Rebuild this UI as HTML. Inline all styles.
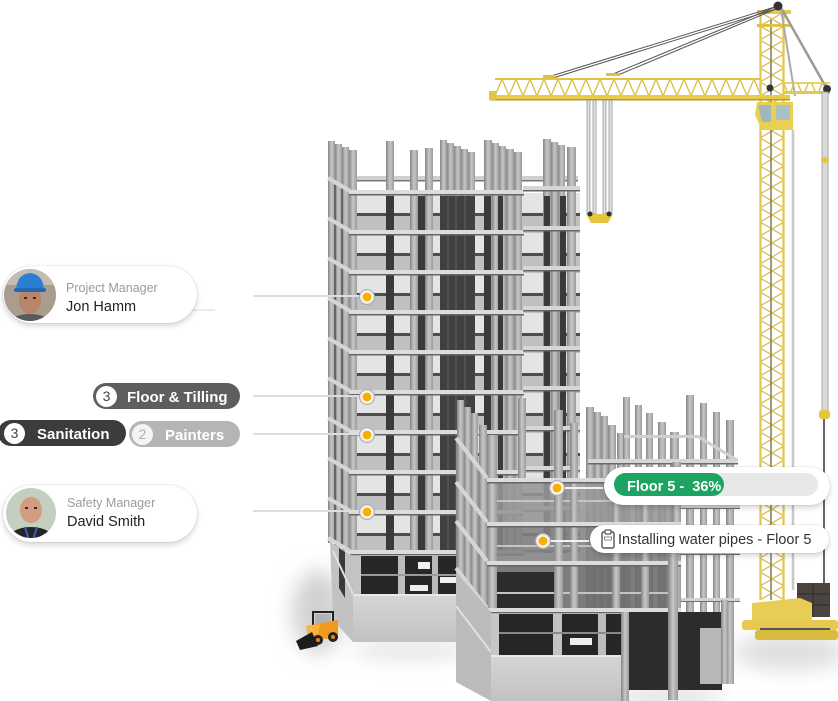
<!DOCTYPE html>
<html><head><meta charset="utf-8">
<style>
html,body{margin:0;padding:0;background:#fff;}
body{width:838px;height:701px;position:relative;overflow:hidden;font-family:"Liberation Sans",Arial,sans-serif;}
.a{position:absolute;left:0;top:0;}
.pill{position:absolute;background:#fff;border-radius:29px;box-shadow:0 3px 6px rgba(0,0,0,.16),0 0 1px rgba(0,0,0,.3);}
.t{position:absolute;white-space:pre;line-height:1;}
.cnt{position:absolute;height:26px;border-radius:13px;}
.num{position:absolute;width:21px;height:21px;border-radius:50%;background:#fff;font-size:14px;line-height:21px;text-align:center;color:#444;}
.lbl{position:absolute;white-space:pre;line-height:1;color:#fff;font-weight:bold;font-size:15px;}
</style></head><body>
<svg class="a" width="838" height="701" viewBox="0 0 838 701">
<defs>
 <linearGradient id="cg" x1="0" x2="1" y1="0" y2="0">
  <stop offset="0" stop-color="#858585"/><stop offset=".5" stop-color="#c8c8c8"/><stop offset="1" stop-color="#9a9a9a"/>
 </linearGradient>
 <linearGradient id="baseG" x1="0" x2="0" y1="0" y2="1">
  <stop offset="0" stop-color="#d6d6d6"/><stop offset="1" stop-color="#c2c2c2"/>
 </linearGradient>
 <pattern id="floors" patternUnits="userSpaceOnUse" x="0" y="193" width="838" height="40">
  <rect width="838" height="40" fill="#e4e4e4"/>
  <rect y="20" width="838" height="3" fill="#4d4d4d"/>
  <rect y="23" width="838" height="17" fill="#c0c0c0"/>
 </pattern>
 <pattern id="bands" patternUnits="userSpaceOnUse" x="0" y="190" width="838" height="40">
  <rect y="0" width="838" height="4" fill="#dcdcdc"/>
  <rect y="4" width="838" height="1.5" fill="#666"/>
 </pattern>
 <pattern id="bandsR" patternUnits="userSpaceOnUse" x="0" y="186" width="838" height="40">
  <rect y="0" width="838" height="4" fill="#d6d6d6"/>
  <rect y="4" width="838" height="1.5" fill="#666"/>
 </pattern>
 <pattern id="mast" patternUnits="userSpaceOnUse" x="760" y="12" width="24" height="14">
  <path d="M0 0 L24 14 M24 0 L0 14" stroke="#d6bb48" stroke-width="1.2" fill="none"/>
 </pattern>
 <pattern id="jib" patternUnits="userSpaceOnUse" x="495" y="79" width="14" height="17">
  <path d="M0 17 L7 0 L14 17" stroke="#dcbd40" stroke-width="1.3" fill="none"/>
 </pattern>
 <filter id="blur" x="-50%" y="-50%" width="200%" height="200%"><feGaussianBlur stdDeviation="10"/></filter>
 <clipPath id="av1"><circle cx="30" cy="295" r="26"/></clipPath>
 <clipPath id="av2"><circle cx="31" cy="513" r="25"/></clipPath>
</defs>

<!-- ground shadows -->
<g filter="url(#blur)">
 <ellipse cx="318" cy="612" rx="26" ry="42" fill="#d2d2d2"/>
 <ellipse cx="410" cy="650" rx="60" ry="7" fill="#dadada"/>
 <ellipse cx="790" cy="652" rx="58" ry="18" fill="#dedede"/>
 <ellipse cx="670" cy="697" rx="55" ry="8" fill="#d8d8d8"/>
</g>

<!-- ===== LEFT TOWER ===== -->
<rect x="350" y="193" width="230" height="360" fill="url(#floors)"/>
<rect x="356" y="176" width="222" height="4" fill="#cfcfcf"/>
<rect x="356" y="180" width="222" height="1.5" fill="#777"/>
<polygon points="328,180 350,193 350,553 328,540" fill="#9a9a9a"/>
<g fill="url(#cg)">
 <rect x="328" y="141" width="7" height="402"/>
 <rect x="335" y="144" width="7" height="404"/>
 <rect x="342" y="147" width="7" height="404"/>
 <rect x="349" y="150" width="8" height="403"/>
 <rect x="386" y="141" width="8" height="412"/>
 <rect x="410" y="150" width="8" height="403"/>
 <rect x="425" y="148" width="8" height="405"/>
 <rect x="440" y="140" width="7" height="413"/>
 <rect x="447" y="143" width="7" height="410"/>
 <rect x="454" y="146" width="7" height="407"/>
 <rect x="461" y="149" width="7" height="404"/>
 <rect x="468" y="152" width="7" height="401"/>
 <rect x="484" y="140" width="8" height="413"/>
 <rect x="492" y="143" width="7" height="410"/>
 <rect x="499" y="146" width="7" height="407"/>
 <rect x="506" y="149" width="8" height="404"/>
 <rect x="514" y="152" width="8" height="401"/>
 <rect x="543" y="139" width="8" height="414"/>
 <rect x="551" y="142" width="7" height="411"/>
 <rect x="558" y="145" width="7" height="408"/>
 <rect x="567" y="147" width="9" height="406"/>
</g>
<g fill="#3a3a3a">
 <rect x="386" y="196" width="8" height="357"/>
 <rect x="418" y="196" width="7" height="357"/>
 <rect x="440" y="196" width="35" height="357" fill="#404040"/>
 <rect x="484" y="196" width="7" height="357"/>
 <rect x="498" y="196" width="5" height="357"/>
 <rect x="544" y="196" width="6" height="357"/>
 <rect x="560" y="196" width="6" height="357"/>
</g>
<g stroke="#575757" stroke-width="1.5">
 <line x1="448" y1="196" x2="448" y2="553"/><line x1="456" y1="196" x2="456" y2="553"/><line x1="465" y1="196" x2="465" y2="553"/>
</g>
<g stroke="#4a4a4a" stroke-width="1.3">
 <line x1="335" y1="185" x2="335" y2="545"/><line x1="342" y1="188" x2="342" y2="548"/>
</g>
<rect x="349" y="189" width="175" height="368" fill="url(#bands)"/>
<rect x="523" y="185" width="57" height="368" fill="url(#bandsR)"/>
<g stroke="#d6d6d6" stroke-width="4">
 <line x1="328" y1="178" x2="350" y2="191"/><line x1="328" y1="218" x2="350" y2="231"/>
 <line x1="328" y1="258" x2="350" y2="271"/><line x1="328" y1="298" x2="350" y2="311"/>
 <line x1="328" y1="338" x2="350" y2="351"/><line x1="328" y1="378" x2="350" y2="391"/>
 <line x1="328" y1="418" x2="350" y2="431"/><line x1="328" y1="458" x2="350" y2="471"/>
 <line x1="328" y1="498" x2="350" y2="511"/><line x1="328" y1="538" x2="350" y2="551"/>
</g>

<!-- left tower ground floor + base -->
<polygon points="330,542 353,556 353,642 333,620" fill="#c2c2c2"/>
<polygon points="339,548 345,552 345,598 339,588" fill="#3a3a3a"/>
<line x1="333" y1="551" x2="353" y2="594" stroke="#e2e2e2" stroke-width="2"/>
<rect x="353" y="556" width="104" height="38" fill="#272727"/>
<rect x="353" y="556" width="8" height="38" fill="#c4c4c4"/>
<rect x="398" y="556" width="7" height="38" fill="#bdbdbd"/>
<rect x="432" y="556" width="6" height="38" fill="#b8b8b8"/>
<rect x="361" y="574" width="96" height="2" fill="#9a9a9a"/>
<rect x="418" y="562" width="12" height="7" fill="#f0f0f0"/>
<rect x="440" y="577" width="16" height="6" fill="#f0f0f0"/>
<rect x="410" y="585" width="18" height="6" fill="#eeeeee"/>
<rect x="353" y="594" width="104" height="48" fill="url(#baseG)"/>
<rect x="353" y="594" width="104" height="2" fill="#e8e8e8"/>

<!-- ===== RIGHT BUILDING ===== -->
<g fill="url(#cg)">
 <rect x="586" y="407" width="8" height="205"/>
 <rect x="594" y="412" width="7" height="200"/>
 <rect x="601" y="416" width="7" height="196"/>
 <rect x="608" y="425" width="8" height="187"/>
 <rect x="617" y="433" width="8" height="179"/>
 <rect x="623" y="397" width="7" height="215"/>
 <rect x="635" y="405" width="7" height="207"/>
 <rect x="646" y="413" width="7" height="199"/>
 <rect x="658" y="422" width="8" height="190"/>
 <rect x="670" y="432" width="9" height="180"/>
 <rect x="686" y="395" width="8" height="217"/>
 <rect x="700" y="403" width="7" height="209"/>
 <rect x="713" y="412" width="7" height="228"/>
 <rect x="726" y="420" width="8" height="264"/>
</g>
<rect x="588" y="459" width="150" height="4" fill="#d6d6d6"/>
<rect x="588" y="463" width="150" height="1.5" fill="#6a6a6a"/>
<rect x="624" y="435" width="74" height="3" fill="#cfcfcf"/>
<line x1="697" y1="436" x2="737" y2="460" stroke="#d0d0d0" stroke-width="3"/>
<g fill="#d2d2d2">
 <rect x="680" y="505" width="60" height="3"/><rect x="680" y="551" width="60" height="3"/><rect x="680" y="598" width="60" height="3"/>
</g>
<g fill="#707070">
 <rect x="680" y="508" width="60" height="1"/><rect x="680" y="554" width="60" height="1"/><rect x="680" y="601" width="60" height="1"/>
</g>
<g opacity=".88">
 <rect x="487" y="480" width="193" height="44" fill="#969696"/>
 <rect x="487" y="524" width="193" height="39" fill="#828282"/>
 <rect x="487" y="563" width="193" height="49" fill="#6a6a6a"/>
</g>
<rect x="496" y="572" width="58" height="36" fill="#2c2c2c"/>
<g fill="#c4c4c4">
 <rect x="487" y="500" width="193" height="2"/><rect x="487" y="545" width="193" height="2"/><rect x="487" y="592" width="193" height="2"/>
</g>
<polygon points="456,440 487,480 487,612 456,572" fill="#8a8a8a"/>
<g fill="url(#cg)">
 <rect x="457" y="400" width="7" height="210"/>
 <rect x="464" y="407" width="7" height="203"/>
 <rect x="471" y="413" width="7" height="197"/>
 <rect x="479" y="425" width="8" height="185"/>
 <rect x="487" y="435" width="10" height="177"/>
 <rect x="518" y="398" width="8" height="82"/>
 <rect x="554" y="410" width="9" height="202"/>
 <rect x="570" y="423" width="8" height="189"/>
 <rect x="612" y="470" width="8" height="142"/>
 <rect x="641" y="470" width="8" height="142"/>
 <rect x="672" y="462" width="9" height="150"/>
</g>
<g>
 <rect x="487" y="478" width="194" height="4" fill="#dcdcdc"/><rect x="487" y="482" width="194" height="1.5" fill="#666"/>
 <rect x="487" y="522" width="194" height="4" fill="#dcdcdc"/><rect x="487" y="526" width="194" height="1.5" fill="#666"/>
 <rect x="487" y="561" width="194" height="4" fill="#dcdcdc"/><rect x="487" y="565" width="194" height="1.5" fill="#666"/>
 <rect x="487" y="608" width="194" height="4" fill="#dcdcdc"/><rect x="487" y="612" width="194" height="1.5" fill="#666"/>
</g>
<g stroke="#d6d6d6" stroke-width="4">
 <line x1="456" y1="438" x2="487" y2="478"/><line x1="456" y1="482" x2="487" y2="522"/>
 <line x1="456" y1="521" x2="487" y2="561"/><line x1="456" y1="568" x2="487" y2="608"/>
</g>

<!-- right building base -->
<polygon points="456,572 491,612 491,701 456,682" fill="#bbbbbb"/>
<line x1="456" y1="606" x2="491" y2="652" stroke="#e0e0e0" stroke-width="2"/>
<rect x="491" y="614" width="134" height="42" fill="#262626"/>
<rect x="491" y="614" width="8" height="42" fill="#c6c6c6"/>
<rect x="553" y="614" width="9" height="42" fill="#c2c2c2"/>
<rect x="598" y="614" width="8" height="42" fill="#bcbcbc"/>
<rect x="499" y="632" width="126" height="2" fill="#8a8a8a"/>
<rect x="570" y="638" width="22" height="7" fill="#eeeeee"/>
<rect x="491" y="655" width="135" height="46" fill="url(#baseG)"/>
<rect x="491" y="655" width="135" height="2" fill="#e6e6e6"/>

<!-- right recess -->
<rect x="626" y="612" width="96" height="78" fill="#2c2c2c"/>
<rect x="621" y="612" width="8" height="89" fill="url(#cg)"/>
<rect x="668" y="540" width="10" height="160" fill="url(#cg)"/>
<rect x="700" y="628" width="22" height="56" fill="#b8b8b8"/>
<rect x="721" y="600" width="7" height="84" fill="url(#cg)"/>

<!-- ===== CRANE ===== -->
<rect x="760" y="12" width="24" height="588" fill="url(#mast)"/>
<line x1="771" y1="20" x2="771" y2="600" stroke="#8a8060" stroke-width="1.6"/>
<line x1="760.5" y1="14" x2="760.5" y2="600" stroke="#e2c850" stroke-width="2.3"/>
<line x1="783.5" y1="14" x2="783.5" y2="600" stroke="#e2c850" stroke-width="2.3"/>
<rect x="757" y="10" width="34" height="4" fill="#e6c84a"/>
<rect x="757" y="24" width="34" height="3" fill="#e0c245"/>
<!-- cables -->
<g stroke="#555" stroke-width="1">
 <line x1="778" y1="6" x2="548" y2="77"/><line x1="776" y1="9" x2="553" y2="78"/>
 <line x1="778" y1="6" x2="613" y2="74"/><line x1="776" y1="9" x2="618" y2="75"/>
</g>
<line x1="780" y1="6" x2="827" y2="89" stroke="#9a9a9a" stroke-width="2.5"/>
<line x1="781" y1="9" x2="795" y2="96" stroke="#aaa" stroke-width="2"/>
<circle cx="778" cy="6" r="4.5" fill="#333"/>
<!-- jib -->
<rect x="495" y="79" width="265" height="17" fill="url(#jib)"/>
<line x1="495" y1="79" x2="760" y2="79" stroke="#e2c444" stroke-width="2"/>
<rect x="490" y="95" width="300" height="4" fill="#e9cb4b"/>
<rect x="490" y="99" width="300" height="1.5" fill="#b59a2c"/>
<rect x="489" y="91" width="7" height="9" fill="#e3c445"/>
<rect x="543" y="75" width="12" height="3" fill="#e0c040"/>
<rect x="606" y="73" width="14" height="3" fill="#e0c040"/>
<!-- counter jib -->
<rect x="784" y="83" width="46" height="9" fill="url(#jib)"/>
<line x1="784" y1="83" x2="830" y2="83" stroke="#e2c444" stroke-width="1.5"/>
<rect x="784" y="91" width="46" height="3" fill="#e6c84a"/>
<circle cx="827" cy="89" r="4" fill="#333"/>
<circle cx="770" cy="88" r="3.5" fill="#333"/>
<!-- hook -->
<g fill="#e2e2e2" stroke="#8a8a8a" stroke-width=".7">
 <rect x="587" y="100" width="3" height="114"/><rect x="593" y="100" width="3" height="114"/>
 <rect x="603" y="100" width="3" height="114"/><rect x="609" y="100" width="3" height="114"/>
</g>
<path d="M586 214 L613 214 L608 223 L591 223 Z" fill="#e6c53d"/>
<circle cx="590" cy="214" r="2.5" fill="#333"/><circle cx="609" cy="214" r="2.5" fill="#333"/>
<!-- cab -->
<polygon points="757,102 793,102 793,130 762,130 755,115" fill="#e9cf52"/>
<polygon points="758,105 771,105 771,122 762,122" fill="#9fb8bf"/>
<rect x="776" y="105" width="14" height="15" fill="#a9c0c4"/>
<!-- vertical cables -->
<line x1="793" y1="130" x2="793" y2="590" stroke="#c8c8c8" stroke-width="2.5"/>
<rect x="822" y="92" width="6" height="320" fill="#dadada" stroke="#9a9a9a" stroke-width=".8"/>
<ellipse cx="825" cy="160" rx="4" ry="3" fill="#e6c53d"/>
<rect x="819" y="410" width="11" height="9" rx="3" fill="#e6c53d"/>
<line x1="824" y1="419" x2="824" y2="595" stroke="#333" stroke-width="1.5"/>
<!-- crane base -->
<rect x="797" y="583" width="33" height="34" fill="#4a4540"/>
<g stroke="#2e2a26" stroke-width="1"><line x1="797" y1="594" x2="830" y2="594"/><line x1="797" y1="605" x2="830" y2="605"/><line x1="813" y1="583" x2="813" y2="617"/></g>
<polygon points="752,603 800,598 812,603 812,621 752,621" fill="#e8cc55"/>
<rect x="742" y="620" width="96" height="10" rx="3" fill="#e6c94e"/>
<rect x="760" y="628" width="70" height="3" fill="#555"/>
<rect x="755" y="630" width="83" height="10" rx="3" fill="#d9bb40"/>

<!-- bulldozer -->
<g>
 <rect x="313" y="612" width="20" height="16" fill="none" stroke="#222" stroke-width="2"/>
 <rect x="315" y="614" width="16" height="12" fill="#9aa0a4" opacity=".6"/>
 <polygon points="306,626 338,620 338,638 309,640" fill="#f29a1c"/>
 <polygon points="306,626 320,624 318,634 308,636" fill="#f7b440"/>
 <circle cx="318" cy="640" r="5" fill="#222"/><circle cx="333" cy="637" r="5" fill="#222"/>
 <circle cx="318" cy="640" r="2" fill="#e08a18"/><circle cx="333" cy="637" r="2" fill="#e08a18"/>
 <polygon points="296,641 312,632 318,646 300,650" fill="#1c1c1c"/>
</g>

<!-- connectors -->
<g stroke="#dedede" stroke-width="2">
 <line x1="253" y1="296" x2="360" y2="296"/>
 <line x1="253" y1="396" x2="360" y2="396"/>
 <line x1="253" y1="434" x2="360" y2="434"/>
 <line x1="253" y1="511" x2="360" y2="511"/>
 <line x1="190" y1="310" x2="215" y2="310" stroke="#ececec"/>
</g>
<g stroke="#f2f2f2" stroke-width="2">
 <line x1="565" y1="488" x2="603" y2="488"/>
 <line x1="551" y1="541" x2="589" y2="541"/>
</g>
<!-- dots -->
<g>
 <g transform="translate(367,297)"><circle r="7.5" fill="#e8e8e8" stroke="#aaa"/><circle r="5.5" fill="#fff"/><circle r="4.5" fill="#f5b000"/></g>
 <g transform="translate(367,397)"><circle r="7.5" fill="#e8e8e8" stroke="#aaa"/><circle r="5.5" fill="#fff"/><circle r="4.5" fill="#f5b000"/></g>
 <g transform="translate(367,435)"><circle r="7.5" fill="#e8e8e8" stroke="#aaa"/><circle r="5.5" fill="#fff"/><circle r="4.5" fill="#f5b000"/></g>
 <g transform="translate(367,512)"><circle r="7.5" fill="#e8e8e8" stroke="#aaa"/><circle r="5.5" fill="#fff"/><circle r="4.5" fill="#f5b000"/></g>
 <g transform="translate(557,488)"><circle r="7.5" fill="#e8e8e8" stroke="#aaa"/><circle r="5.5" fill="#fff"/><circle r="4.5" fill="#f5b000"/></g>
 <g transform="translate(543,541)"><circle r="7.5" fill="#e8e8e8" stroke="#aaa"/><circle r="5.5" fill="#fff"/><circle r="4.5" fill="#f5b000"/></g>
</g>
</svg>

<!-- person pills (backgrounds first) -->
<div class="pill" style="left:3px;top:266px;width:194px;height:57px;"></div>
<div class="pill" style="left:3px;top:485px;width:194px;height:57px;"></div>
<svg class="a" width="838" height="701" viewBox="0 0 838 701" style="pointer-events:none">
 <defs>
  <clipPath id="bv1"><circle cx="30" cy="295" r="26"/></clipPath>
  <clipPath id="bv2"><circle cx="31" cy="513" r="25"/></clipPath>
 </defs>
 <g clip-path="url(#bv1)">
  <rect x="0" y="265" width="60" height="60" fill="#a99d8f"/>
  <rect x="0" y="265" width="60" height="20" fill="#c4bcb0"/>
  <ellipse cx="30" cy="327" rx="24" ry="13" fill="#5a5a5a"/>
  <ellipse cx="30" cy="300" rx="11" ry="14" fill="#b98468"/>
  <path d="M16 290 Q17 274 30 273 Q43 274 44 290 Z" fill="#2a7fd4"/>
  <rect x="14" y="288" width="32" height="4" rx="2" fill="#2269b5"/>
  <rect x="24" y="297" width="3" height="2" fill="#3a2a20"/><rect x="33" y="297" width="3" height="2" fill="#3a2a20"/>
 </g>
 <g clip-path="url(#bv2)">
  <rect x="0" y="485" width="60" height="60" fill="#c5cfbf"/>
  <ellipse cx="31" cy="542" rx="25" ry="15" fill="#252525"/>
  <ellipse cx="31" cy="510" rx="11" ry="13" fill="#d39c80"/>
  <rect x="25" y="507" width="3" height="2" fill="#3a2a20"/><rect x="34" y="507" width="3" height="2" fill="#3a2a20"/>
  <line x1="25" y1="527" x2="29" y2="540" stroke="#3a5fc0" stroke-width="2"/>
  <line x1="37" y1="527" x2="33" y2="540" stroke="#3a5fc0" stroke-width="2"/>
 </g>
</svg>
<div class="t" style="left:66px;top:282px;font-size:12.5px;color:#9b9b9b;">Project Manager</div>
<div class="t" style="left:66px;top:300px;font-size:14.5px;color:#222;">Jon Hamm</div>
<div class="t" style="left:67px;top:497px;font-size:12.5px;color:#9b9b9b;">Safety Manager</div>
<div class="t" style="left:67px;top:515px;font-size:14.5px;color:#222;">David Smith</div>

<!-- count pills -->
<div class="cnt" style="left:93px;top:383px;width:147px;background:#5e5e5e;"></div>
<div class="num" style="left:96px;top:386px;">3</div>
<div class="lbl" style="left:127px;top:390px;">Floor &amp; Tilling</div>

<div class="cnt" style="left:-2px;top:420px;width:128px;background:#3c3c3c;"></div>
<div class="num" style="left:4px;top:423px;">3</div>
<div class="lbl" style="left:37px;top:427px;">Sanitation</div>

<div class="cnt" style="left:129px;top:421px;width:111px;background:#b5b5b5;"></div>
<div class="num" style="left:132px;top:424px;color:#b0b0b0;background:#f4f4f4;">2</div>
<div class="lbl" style="left:165px;top:428px;">Painters</div>

<!-- Floor 5 progress -->
<div class="pill" style="left:604px;top:467px;width:226px;height:38px;border-radius:19px;"></div>
<div class="a" style="left:614px;top:473px;width:204px;height:23px;border-radius:12px;background:#e8e8e8;"></div>
<div class="a" style="left:614px;top:473px;width:110px;height:23px;border-radius:12px;background:#1ea462;"></div>
<div class="t" style="left:627px;top:480px;font-size:14.5px;font-weight:bold;color:#fff;">Floor 5 -  36%</div>

<!-- Installing -->
<div class="pill" style="left:590px;top:525px;width:239px;height:28px;border-radius:14px;"></div>
<svg class="a" style="left:601px;top:529px;" width="14" height="20" viewBox="0 0 14 20">
 <rect x="1" y="3" width="12" height="16" rx="1.5" fill="none" stroke="#555" stroke-width="1.4"/>
 <rect x="4" y="1" width="6" height="4" rx="1" fill="#fff" stroke="#555" stroke-width="1.2"/>
 <rect x="3.5" y="8" width="7" height="3" fill="none" stroke="#777" stroke-width=".8"/>
</svg>
<div class="t" style="left:618px;top:533px;font-size:14.5px;color:#333;">Installing water pipes - Floor 5</div>
</body></html>
